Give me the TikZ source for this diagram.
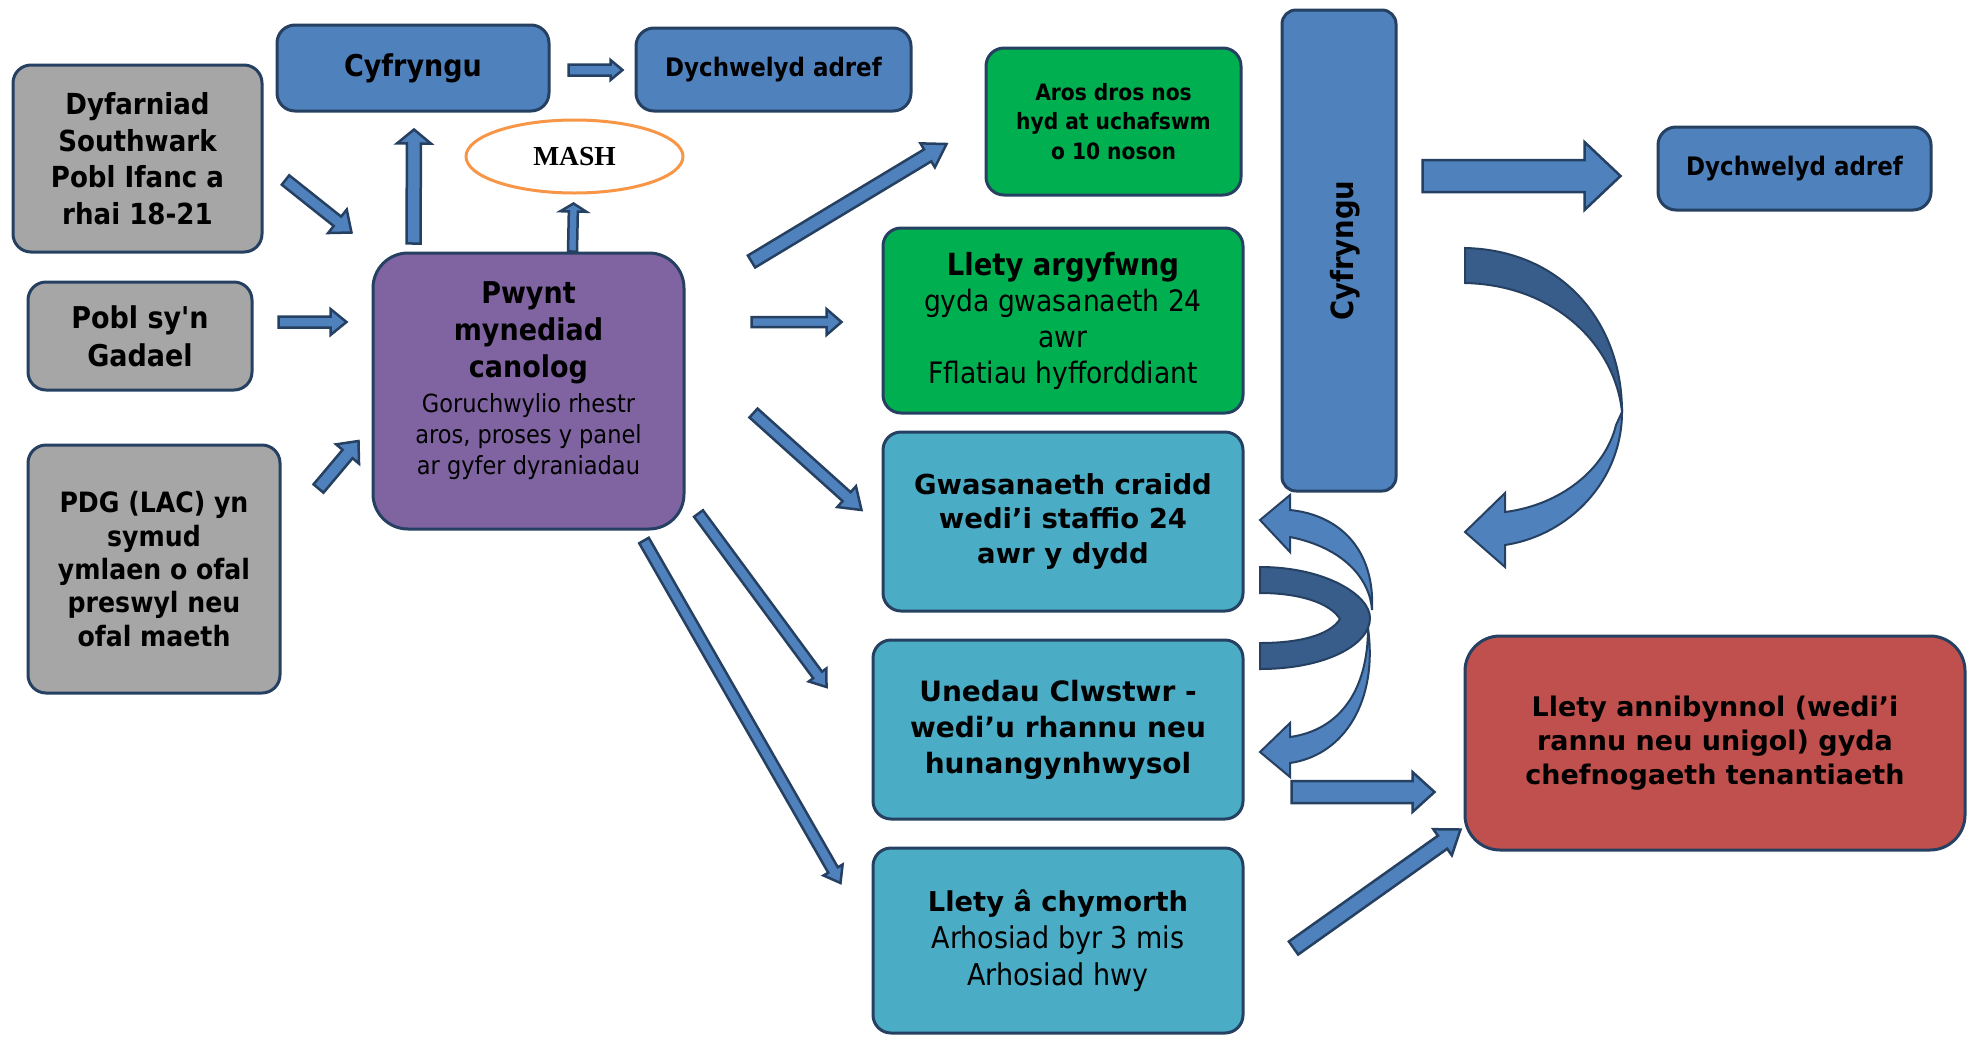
\documentclass[tikz,border=0pt]{standalone}
\usepackage{fontspec}
\newfontfamily\tah{DejaVu Sans Condensed}
\newfontfamily\ver{DejaVu Sans}
\newfontfamily\tms{Liberation Serif}
\usetikzlibrary{calc,shapes.geometric}

\definecolor{bord}{RGB}{37,64,97}
\definecolor{greyf}{RGB}{166,166,166}
\definecolor{bluef}{RGB}{79,129,189}
\definecolor{darkf}{RGB}{56,93,138}
\definecolor{purpf}{RGB}{128,100,162}
\definecolor{greenf}{RGB}{0,176,80}
\definecolor{tealf}{RGB}{75,172,198}
\definecolor{redf}{RGB}{192,80,77}
\definecolor{mashc}{RGB}{247,150,70}

\newcommand{\hd}[2]{{\bfseries\fontsize{#1}{#1}\selectfont #2}}
% block arrow: start, end, half shaft, half head, head length
\newcommand{\barrow}[6][]{%
  \coordinate (bs) at (#2);
  \coordinate (be) at (#3);
  \coordinate (bh) at ($(be)!#6!(bs)$);
  \draw[arr,#1] ($(bs)!#4!90:(be)$) -- ($(bh)!#4!-90:(bs)$) -- ($(bh)!#5!-90:(bs)$) -- (be)
    -- ($(bh)!#5!90:(bs)$) -- ($(bh)!#4!90:(bs)$) -- ($(bs)!#4!-90:(be)$) -- cycle;
}

\begin{document}
\begin{tikzpicture}[x=1pt, y=-1pt,
  box/.style={draw=bord, line width=3pt, rounded corners=18pt, align=center, inner sep=0pt},
  arr/.style={draw=bord, fill=bluef, line width=2.5pt, line join=miter},
  curv/.style={draw=bord, fill=bluef, line width=2pt},
  curvd/.style={curv, fill=darkf}]
\useasboundingbox (0,0) rectangle (1975,1037);

\node[box, fill=greyf, minimum width=249pt, minimum height=187pt, font=\tah\bfseries\fontsize{29}{36.5}\selectfont] (dyf) at (137.5,158.5) {Dyfarniad\\Southwark\\Pobl Ifanc a\\rhai 18-21};
\node[box, fill=greyf, minimum width=224pt, minimum height=108pt, font=\tah\bfseries\fontsize{30}{38}\selectfont] (pobl) at (140,336) {Pobl sy'n\\Gadael};
\node[box, fill=greyf, minimum width=252pt, minimum height=248pt, font=\tah\bfseries\fontsize{28}{33.4}\selectfont] (pdg) at (154,569) {PDG (LAC) yn\\symud\\ymlaen o ofal\\preswyl neu\\ofal maeth};
\node[box, fill=bluef, minimum width=272pt, minimum height=86pt, font=\tah\bfseries\fontsize{30}{35}\selectfont] (cyf) at (413,68) {Cyfryngu};
\node[box, fill=bluef, minimum width=275pt, minimum height=83pt, font=\tah\bfseries\fontsize{25.5}{30}\selectfont] (dyt) at (773.5,69.5) {Dychwelyd adref};
\node[ellipse, draw=mashc, line width=3pt, fill=white, minimum width=217pt, minimum height=73pt, font=\tms\bfseries\fontsize{27.5}{30}\selectfont] (mash) at (574.5,156.5) {MASH};
\node[box, rounded corners=35pt, fill=purpf, minimum width=311pt, minimum height=276pt, font=\tah\fontsize{25}{31}\selectfont] (pwy) at (528.5,391) {\hd{30}{Pwynt}\\[6pt]\hd{30}{mynediad}\\[6pt]\hd{30}{canolog}\\[4pt]Goruchwylio rhestr\\aros, proses y panel\\ar gyfer dyraniadau\\[-6pt]\mbox{}};

\node[box, fill=greenf, minimum width=255pt, minimum height=147pt, font=\tah\bfseries\fontsize{22.5}{29.6}\selectfont] (aros) at (1113.5,121.5) {Aros dros nos\\hyd at uchafswm\\o 10 noson};
\node[box, fill=greenf, minimum width=360pt, minimum height=185pt, font=\tah\fontsize{29.5}{36}\selectfont] (larg) at (1063,320.5) {\hd{30.5}{Llety argyfwng}\\gyda gwasanaeth 24\\awr\\Fflatiau hyfforddiant};
\node[box, fill=tealf, minimum width=360pt, minimum height=179pt, font=\ver\bfseries\fontsize{27.5}{34.6}\selectfont] (gwas) at (1063,521.5) {Gwasanaeth craidd\\wedi’i staffio 24\\awr y dydd};
\node[box, fill=tealf, minimum width=370pt, minimum height=179pt, font=\ver\bfseries\fontsize{28}{36}\selectfont] (uned) at (1058,729.5) {Unedau Clwstwr -\\wedi’u rhannu neu\\hunangynhwysol};
\node[box, fill=tealf, minimum width=370pt, minimum height=185pt, font=\tah\fontsize{30}{37}\selectfont] (llch) at (1058,940.5) {{\ver\bfseries\fontsize{27.3}{37}\selectfont Llety â chymorth}\\Arhosiad byr 3 mis\\Arhosiad hwy};

\node[box, rounded corners=14pt, fill=bluef, minimum width=114pt, minimum height=481pt] (cyfv) at (1339,250.5) {};
\node[rotate=90, font=\tah\bfseries\fontsize{30.5}{34}\selectfont] (cyfvt) at ($(cyfv)+(6,0)$) {Cyfryngu};
\node[box, fill=bluef, minimum width=273pt, minimum height=83pt, font=\tah\bfseries\fontsize{25.5}{30}\selectfont] (dyr) at (1794.5,168.5) {Dychwelyd adref};
\node[box, rounded corners=35pt, fill=redf, minimum width=500pt, minimum height=214pt, font=\ver\bfseries\fontsize{27}{34}\selectfont] (llann) at (1715,743) {Llety annibynnol (wedi’i\\rannu neu unigol) gyda\\chefnogaeth tenantiaeth};

\barrow{$(dyf.east)+(22,21.5)$}{$(pwy.north west)+(-20,-19)$}{6pt}{15pt}{18pt}
\barrow{$(pobl.east)+(25,-14)$}{$(pwy.west|-pobl.east)+(-25,-14)$}{5.5pt}{13pt}{16pt}
\barrow{$(pdg.north east)+(37,45)$}{$(pwy.west)+(-13,50)$}{6.5pt}{15pt}{17pt}
\barrow{$(pwy.north)+(-115,-8)$}{$(cyf.south)+(1,17)$}{7pt}{17pt}{14pt}
\barrow{$(pwy.north)+(44,0)$}{$(mash.south)+(-1,9)$}{4.5pt}{13pt}{8pt}
\barrow{$(cyf.east)+(18,2)$}{$(dyt.west)+(-12,0.5)$}{5.5pt}{10pt}{12pt}
\barrow{$(pwy.north east)+(66,10)$}{$(aros.west)+(-38,22.5)$}{7pt}{14pt}{22pt}
\barrow{$(pwy.east)+(66,-69)$}{$(larg.west)+(-40,1.5)$}{5pt}{13pt}{15pt}
\barrow{$(pwy.east)+(68,22)$}{$(gwas.west)+(-20,-11.5)$}{6pt}{14pt}{20pt}
\barrow{$(pwy.south east)+(13,-17)$}{$(uned.west)+(-45,-42.5)$}{5.5pt}{11pt}{15pt}
\barrow{$(pwy.south)+(115.5,10)$}{$(llch.west)+(-31,-57.5)$}{5.5pt}{11pt}{15pt}
\barrow{$(cyfv.east)+(25,-74.5)$}{$(dyr.west)+(-36,7.5)$}{16pt}{34pt}{36pt}
\barrow{$(uned.east)+(47,62.5)$}{$(llann.west)+(-29,49)$}{11pt}{20pt}{22pt}
\barrow{$(llch.east)+(49,7.5)$}{$(llann.south west)+(-3,-22)$}{8pt}{16pt}{22pt}

% big curved arrow
\draw[curvd] (1465,248) .. controls (1560,250) and (1622,320) .. (1622,412)
  .. controls (1615,345) and (1555,285) .. (1465,283) -- cycle;
\draw[curv] (1622,412) .. controls (1622,480) and (1570,535) .. (1505,545) -- (1505,567) -- (1465,532)
  -- (1505,493) -- (1505,512) .. controls (1560,505) and (1605,470) .. (1616,425) -- cycle;

% small curved arrows
\draw[curv] (1290,510) .. controls (1340,515) and (1375,550) .. (1372,610)
  .. controls (1370,580) and (1345,548) .. (1290,537) -- (1290,552) -- (1260,520) -- (1290,495) -- cycle;
\draw[curv] (1290,763) .. controls (1345,755) and (1378,700) .. (1368,628)
  .. controls (1368,690) and (1340,730) .. (1290,737) -- (1290,723) -- (1260,752) -- (1290,777) -- cycle;
\draw[curvd] (1260,567) .. controls (1325,567) and (1370,595) .. (1370,618)
  .. controls (1370,645) and (1325,669) .. (1260,669) -- (1260,643)
  .. controls (1300,643) and (1330,635) .. (1340,619)
  .. controls (1330,603) and (1300,593) .. (1260,593) -- cycle;
\end{tikzpicture}
\end{document}
